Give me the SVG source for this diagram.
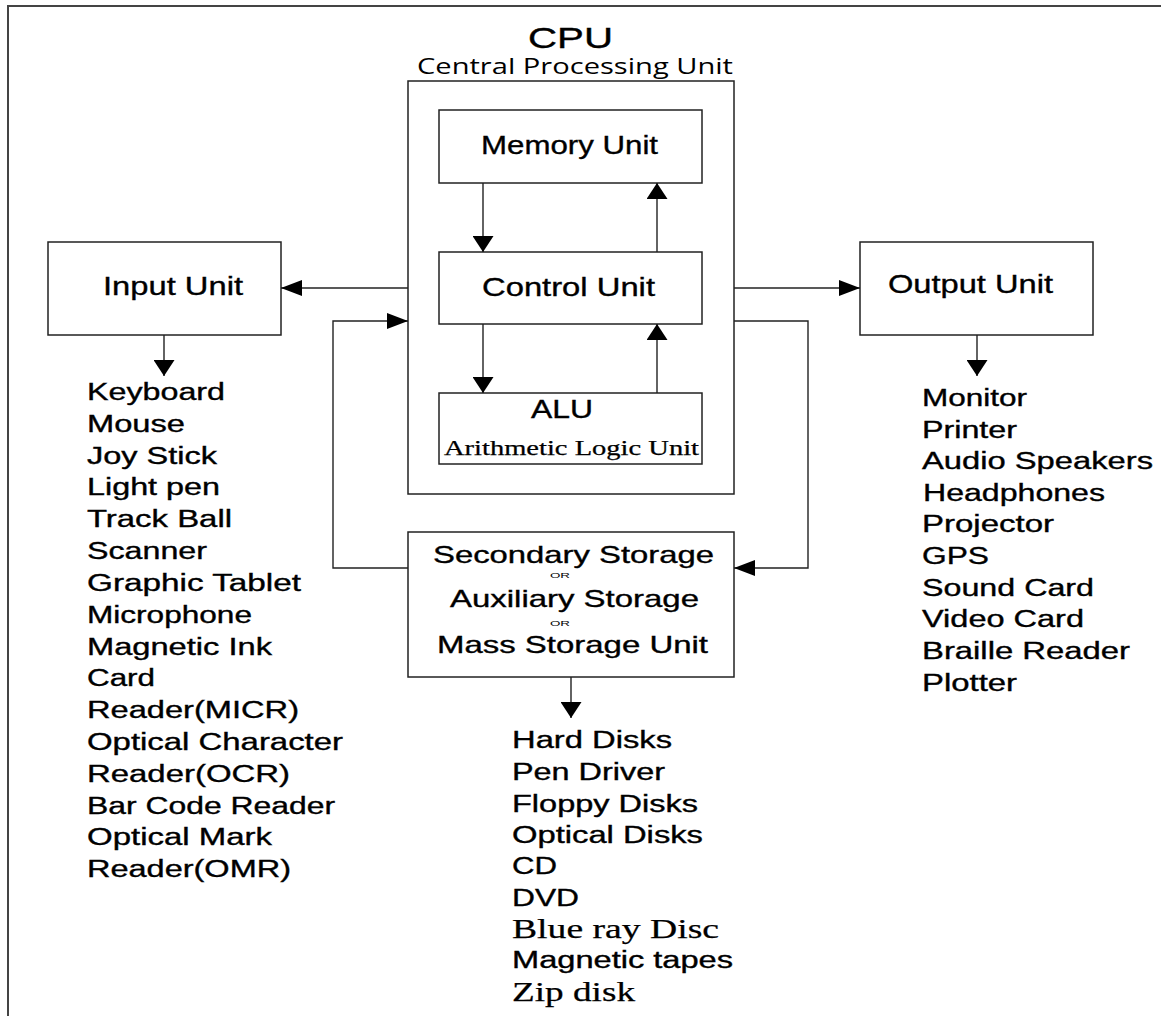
<svg xmlns="http://www.w3.org/2000/svg" width="1161" height="1016" viewBox="0 0 1161 1016">
<defs>
<style>
.box{fill:#fff;stroke:#222;stroke-width:1.5}
.ln{fill:none;stroke:#222;stroke-width:1.4}
.t{font-family:"Liberation Sans",Arial,sans-serif;fill:#000;stroke:#000;stroke-width:0.35}
.s{font-family:"Liberation Serif","Times New Roman",serif;fill:#000;stroke:#000;stroke-width:0.25}
.li{font-size:23px}
.lbl{font-size:26px}
</style>
<marker id="ah" markerUnits="userSpaceOnUse" viewBox="0 0 21 16" markerWidth="21" markerHeight="16" refX="21" refY="8" orient="auto"><path d="M0,0 L21,8 L0,16 Z" fill="#000"/></marker>
<marker id="av" markerUnits="userSpaceOnUse" viewBox="0 0 16 21" markerWidth="16" markerHeight="21" refX="16" refY="10.5" orient="auto"><path d="M0,0 L16,10.5 L0,21 Z" fill="#000"/></marker>
</defs>
<rect width="1161" height="1016" fill="#fff"/>
<g id="frame" fill="none" stroke="#444" stroke-width="2">
<path d="M8,1016 V6 H1161"/>
</g>
<g id="cpu">
<rect class="box" x="408" y="81" width="326" height="413"/>
<text class="t" x="528" y="48" font-size="29" textLength="85" lengthAdjust="spacingAndGlyphs">CPU</text>
<text x="417" y="74" font-family="'Open Sans','Noto Sans',sans-serif" font-size="21" textLength="316" lengthAdjust="spacingAndGlyphs">Central Processing Unit</text>
</g>
<g id="memory-unit">
<rect class="box" x="439" y="110" width="263" height="73"/>
<text class="t lbl" x="481" y="154" textLength="177" lengthAdjust="spacingAndGlyphs">Memory Unit</text>
</g>
<g id="control-unit">
<rect class="box" x="439" y="252" width="263" height="72"/>
<text class="t lbl" x="482" y="296" textLength="173" lengthAdjust="spacingAndGlyphs">Control Unit</text>
</g>
<g id="alu">
<rect class="box" x="439" y="393" width="263" height="71"/>
<text class="t" x="531" y="418" font-size="25" textLength="62" lengthAdjust="spacingAndGlyphs">ALU</text>
<text class="s" x="444" y="455" font-size="21" textLength="255" lengthAdjust="spacingAndGlyphs">Arithmetic Logic Unit</text>
</g>
<g id="input-unit">
<rect class="box" x="48" y="242" width="233" height="93"/>
<text class="t lbl" x="103" y="295" textLength="140" lengthAdjust="spacingAndGlyphs">Input Unit</text>
</g>
<g id="output-unit">
<rect class="box" x="860" y="242" width="233" height="93"/>
<text class="t lbl" x="888" y="293" textLength="165" lengthAdjust="spacingAndGlyphs">Output Unit</text>
</g>
<g id="secondary-storage">
<rect class="box" x="408" y="532" width="326" height="145"/>
<text class="t" x="433" y="563" font-size="24" textLength="281" lengthAdjust="spacingAndGlyphs">Secondary Storage</text>
<text x="550" y="578" font-family="'Liberation Sans',Arial,sans-serif" font-size="8" textLength="20" lengthAdjust="spacingAndGlyphs">OR</text>
<text class="t" x="450" y="607" font-size="24" textLength="249" lengthAdjust="spacingAndGlyphs">Auxiliary Storage</text>
<text x="550" y="626" font-family="'Liberation Sans',Arial,sans-serif" font-size="8" textLength="20" lengthAdjust="spacingAndGlyphs">OR</text>
<text class="t" x="437" y="653" font-size="24" textLength="271" lengthAdjust="spacingAndGlyphs">Mass Storage Unit</text>
</g>
<g id="input-devices" class="t li">
<text x="87" y="400" textLength="138" lengthAdjust="spacingAndGlyphs">Keyboard</text>
<text x="87" y="432" textLength="98" lengthAdjust="spacingAndGlyphs">Mouse</text>
<text x="87" y="464" textLength="130" lengthAdjust="spacingAndGlyphs">Joy Stick</text>
<text x="87" y="495" textLength="133" lengthAdjust="spacingAndGlyphs">Light pen</text>
<text x="87" y="527" textLength="145" lengthAdjust="spacingAndGlyphs">Track Ball</text>
<text x="87" y="559" textLength="120" lengthAdjust="spacingAndGlyphs">Scanner</text>
<text x="87" y="591" textLength="214" lengthAdjust="spacingAndGlyphs">Graphic Tablet</text>
<text x="87" y="623" textLength="165" lengthAdjust="spacingAndGlyphs">Microphone</text>
<text x="87" y="655" textLength="185" lengthAdjust="spacingAndGlyphs">Magnetic Ink</text>
<text x="87" y="686" textLength="68" lengthAdjust="spacingAndGlyphs">Card</text>
<text x="87" y="718" textLength="212" lengthAdjust="spacingAndGlyphs">Reader(MICR)</text>
<text x="87" y="750" textLength="256" lengthAdjust="spacingAndGlyphs">Optical Character</text>
<text x="87" y="782" textLength="203" lengthAdjust="spacingAndGlyphs">Reader(OCR)</text>
<text x="87" y="814" textLength="248" lengthAdjust="spacingAndGlyphs">Bar Code Reader</text>
<text x="87" y="845" textLength="185" lengthAdjust="spacingAndGlyphs">Optical Mark</text>
<text x="87" y="877" textLength="204" lengthAdjust="spacingAndGlyphs">Reader(OMR)</text>
</g>
<g id="output-devices" class="t li">
<text x="922" y="406" textLength="105" lengthAdjust="spacingAndGlyphs">Monitor</text>
<text x="922" y="438" textLength="95" lengthAdjust="spacingAndGlyphs">Printer</text>
<text x="922" y="469" textLength="231" lengthAdjust="spacingAndGlyphs">Audio Speakers</text>
<text x="923" y="501" textLength="182" lengthAdjust="spacingAndGlyphs">Headphones</text>
<text x="922" y="532" textLength="132" lengthAdjust="spacingAndGlyphs">Projector</text>
<text x="922" y="564" textLength="67" lengthAdjust="spacingAndGlyphs">GPS</text>
<text x="922" y="596" textLength="172" lengthAdjust="spacingAndGlyphs">Sound Card</text>
<text x="922" y="627" textLength="162" lengthAdjust="spacingAndGlyphs">Video Card</text>
<text x="922" y="659" textLength="208" lengthAdjust="spacingAndGlyphs">Braille Reader</text>
<text x="922" y="691" textLength="95" lengthAdjust="spacingAndGlyphs">Plotter</text>
</g>
<g id="storage-devices" class="li">
<text class="t" x="512" y="748" textLength="160" lengthAdjust="spacingAndGlyphs">Hard Disks</text>
<text class="t" x="512" y="780" textLength="153" lengthAdjust="spacingAndGlyphs">Pen Driver</text>
<text class="t" x="512" y="812" textLength="186" lengthAdjust="spacingAndGlyphs">Floppy Disks</text>
<text class="t" x="512" y="843" textLength="191" lengthAdjust="spacingAndGlyphs">Optical Disks</text>
<text class="t" x="512" y="874" textLength="45" lengthAdjust="spacingAndGlyphs">CD</text>
<text class="t" x="512" y="906" textLength="67" lengthAdjust="spacingAndGlyphs">DVD</text>
<text class="s" x="512" y="938" font-size="27" textLength="207" lengthAdjust="spacingAndGlyphs">Blue ray Disc</text>
<text class="t" x="512" y="968" textLength="221" lengthAdjust="spacingAndGlyphs">Magnetic tapes</text>
<text class="s" x="512" y="1001" font-size="27" textLength="123" lengthAdjust="spacingAndGlyphs">Zip disk</text>
</g>
<g id="connectors" class="ln">
<path d="M483,183 V252" marker-end="url(#av)"/>
<path d="M657,252 V183" marker-end="url(#av)"/>
<path d="M483,324 V393" marker-end="url(#av)"/>
<path d="M657,393 V324" marker-end="url(#av)"/>
<path d="M408,288 H281" marker-end="url(#ah)"/>
<path d="M734,288 H860" marker-end="url(#ah)"/>
<path d="M408,568 H333 V321 H408" marker-end="url(#ah)"/>
<path d="M734,321 H808 V568 H734" marker-end="url(#ah)"/>
<path d="M164,335 V376" marker-end="url(#av)"/>
<path d="M977,335 V376" marker-end="url(#av)"/>
<path d="M571,677 V718" marker-end="url(#av)"/>
</g>
</svg>
